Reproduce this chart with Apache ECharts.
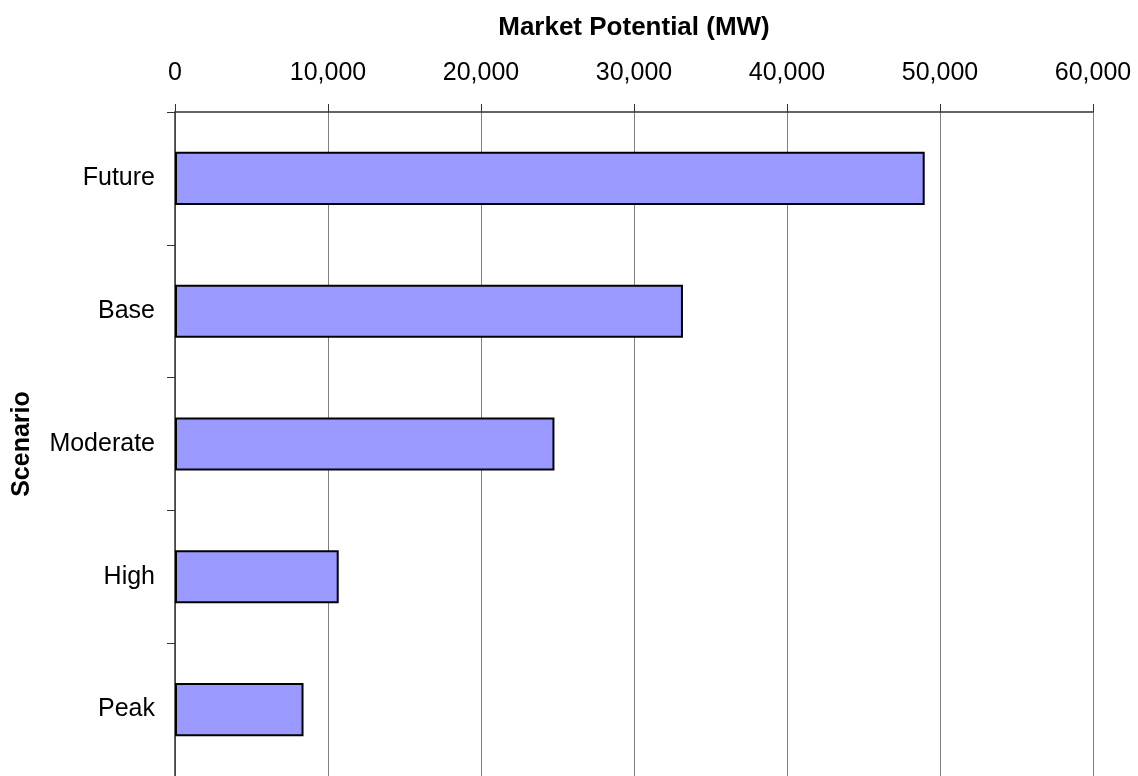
<!DOCTYPE html>
<html>
<head>
<meta charset="utf-8">
<script src="https://cdn.jsdelivr.net/npm/echarts@6/dist/echarts.min.js"></script>
<style>
html,body{margin:0;padding:0;background:#fff;}
#chart{width:1138px;height:776px;}
</style>
</head>
<body>
<div id="chart"></div>
<script>
const scenarios = ['Future', 'Base', 'Moderate', 'High', 'Peak'];
const marketPotential = [49000, 33200, 24800, 10700, 8400];
const xAxisTitle = 'Market Potential (MW)';
const yAxisTitle = 'Scenario';

const chart = echarts.init(document.getElementById('chart'), null, {renderer: 'canvas'});
const FONT = '"Liberation Sans", Arial, sans-serif';

chart.setOption({
  animation: false,
  backgroundColor: '#ffffff',
  grid: {left: 175, top: 112, width: 918, height: 665, containLabel: false},
  xAxis: {
    type: 'value',
    position: 'top',
    min: 0,
    max: 60000,
    interval: 10000,
    name: xAxisTitle,
    nameLocation: 'middle',
    nameGap: 71,
    nameTextStyle: {fontFamily: FONT, fontSize: 26, fontWeight: 'bold', color: '#000'},
    axisLine: {show: true, lineStyle: {color: '#333', width: 1.5}},
    axisTick: {show: true, inside: false, length: 8, lineStyle: {color: '#333'}},
    axisLabel: {
      fontFamily: FONT, fontSize: 25, color: '#000', margin: 26,
      formatter: v => v.toLocaleString('en-US')
    },
    splitLine: {show: true, lineStyle: {color: '#808080', width: 1}}
  },
  yAxis: {
    type: 'category',
    inverse: true,
    data: scenarios,
    name: yAxisTitle,
    nameLocation: 'middle',
    nameGap: 140,
    nameRotate: 90,
    nameTextStyle: {fontFamily: FONT, fontSize: 25, fontWeight: 'bold', color: '#000'},
    axisLine: {show: true, lineStyle: {color: '#333', width: 1.5}},
    axisTick: {show: true, inside: false, length: 8, alignWithLabel: false, lineStyle: {color: '#333'}},
    axisLabel: {fontFamily: FONT, fontSize: 25, color: '#000', margin: 20},
    splitLine: {show: false}
  },
  series: [{
    type: 'bar',
    data: marketPotential,
    barWidth: '40%',
    itemStyle: {color: '#9999FF', borderColor: '#000', borderWidth: 2}
  }]
});
</script>
</body>
</html>
